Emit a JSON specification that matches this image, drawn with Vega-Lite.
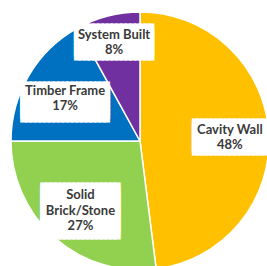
{
  "$schema": "https://vega.github.io/schema/vega-lite/v6.json",
  "width": 280,
  "height": 282,
  "autosize": {"type": "none"},
  "padding": 0,
  "background": "white",
  "config": {"view": {"stroke": null}},
  "data": {"values": [
    {"type": "Cavity Wall", "pct": 48, "rank": 1},
    {"type": "Solid Brick/Stone", "pct": 27, "rank": 2},
    {"type": "Timber Frame", "pct": 17, "rank": 3},
    {"type": "System Built", "pct": 8, "rank": 4}
  ]},
  "transform": [
    {"calculate": "datum.type === 'Solid Brick/Stone' ? ['Solid', 'Brick/Stone', datum.pct + '%'] : [datum.type, datum.pct + '%']", "as": "label"}
  ],
  "encoding": {
    "theta": {"field": "pct", "type": "quantitative", "stack": true},
    "order": {"field": "rank", "type": "quantitative"}
  },
  "layer": [
    {
      "mark": {"type": "arc", "outerRadius": 129, "stroke": "white", "strokeWidth": 1.5},
      "encoding": {
        "color": {
          "field": "type", "type": "nominal",
          "scale": {"domain": ["Cavity Wall", "Solid Brick/Stone", "Timber Frame", "System Built"],
                    "range": ["#FFC000", "#92D050", "#0070C0", "#7030A0"]},
          "legend": null
        }
      }
    },
    {
      "mark": {"type": "text", "font": "DejaVu Sans", "fontSize": 6, "lineHeight": 4, "color": "white", "stroke": "white", "strokeWidth": 2, "strokeJoin": "miter", "baseline": "middle", "align": "center",
               "dy": {"expr": "datum.type === 'Solid Brick/Stone' ? -22 : (datum.type === 'Timber Frame' ? -11 : -12)"}},
      "encoding": {
        "radius": {"value": {"expr": "datum.type === 'System Built' ? 104 : (datum.type === 'Timber Frame' ? 87 : 90)"}},
        "text": {
          "condition": [
            {"test": "datum.type === 'Solid Brick/Stone'", "value": ["█████████████████", "█████████████████", "█████████████████", "█████████████████", "█████████████████", "█████████████████", "█████████████████", "█████████████████", "█████████████████", "█████████████████", "█████████████████", "█████████████████", "█████████████████"]},
            {"test": "datum.type === 'Timber Frame'", "value": ["███████████████████", "███████████████████", "███████████████████", "███████████████████", "███████████████████", "███████████████████", "███████████████████", "███████████████████", "███████████████████"]},
            {"test": "datum.type === 'System Built'", "value": ["█████████████████", "█████████████████", "█████████████████", "█████████████████", "█████████████████", "█████████████████", "█████████████████", "█████████████████"]}
          ],
          "value": ["████████████████", "████████████████", "████████████████", "████████████████", "████████████████", "████████████████", "████████████████", "████████████████"]
        }
      }
    },
    {
      "mark": {"type": "text", "font": "Lato", "fontWeight": "bold", "fontSize": 13, "lineHeight": 15.5, "color": "#3a3a3a", "baseline": "middle", "align": "center",
               "dy": {"expr": "datum.type === 'Solid Brick/Stone' ? -13.5 : -5.75"}},
      "encoding": {
        "radius": {"value": {"expr": "datum.type === 'System Built' ? 104 : (datum.type === 'Timber Frame' ? 87 : 90)"}},
        "text": {"field": "label"}
      }
    }
  ]
}
